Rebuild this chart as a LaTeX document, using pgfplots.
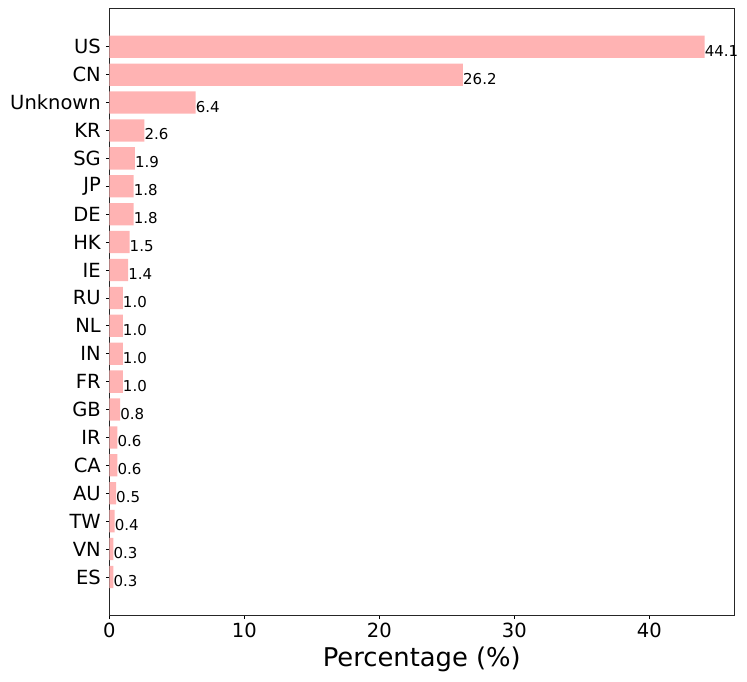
\documentclass[border=0pt]{standalone}
\usepackage{fontspec}
\setmainfont{DejaVu Sans}
\usepackage{pgfplots}
\pgfplotsset{compat=1.18}
\usepackage{pgfplotstable}
\definecolor{barpink}{RGB}{255,179,179}
\pgfplotstableread[col sep=comma]{
idx,label,value,txt
0,US,44.1,44.1
1,CN,26.2,26.2
2,Unknown,6.4,6.4
3,KR,2.6,2.6
4,SG,1.9,1.9
5,JP,1.8,1.8
6,DE,1.8,1.8
7,HK,1.5,1.5
8,IE,1.4,1.4
9,RU,1.0,1.0
10,NL,1.0,1.0
11,IN,1.0,1.0
12,FR,1.0,1.0
13,GB,0.8,0.8
14,IR,0.6,0.6
15,CA,0.6,0.6
16,AU,0.5,0.5
17,TW,0.4,0.4
18,VN,0.3,0.3
19,ES,0.3,0.3
}\datatable
\begin{document}
\begin{tikzpicture}
\begin{axis}[
  name=ax,
  scale only axis,
  width=625pt, height=607.7pt,
  xmin=0, xmax=46.3,
  ymin=-1.39, ymax=20.39,
  y dir=reverse,
  xtick={0,10,20,30,40},
  ytick={0,...,19},
  yticklabels from table={\datatable}{label},
  tick pos=left,
  tick align=outside,
  major tick length=3.5pt,
  tick style={black, line width=0.8pt},
  axis line style={black!85, line width=0.9pt},
  /pgf/number format/assume math mode=true,
  ticklabel style={font=\fontsize{19.5}{23}\selectfont},
  yticklabel style={xshift=-1.5pt},
  xlabel={Percentage (\%)},
  xlabel style={font=\fontsize{25.8}{31}\selectfont, at={(axis description cs:0.5,0)}, anchor=base, yshift=-51pt},
  nodes near coords,
  point meta=explicit symbolic,
  nodes near coords style={font=\fontsize{15}{18}\selectfont, anchor=base west, inner sep=0pt, xshift=0pt, yshift=-9.5pt},
]
\addplot[xbar, bar width=22.3pt, draw=none, fill=barpink] table[x=value, y=idx, meta=txt] {\datatable};
\end{axis}
\pgfresetboundingbox
\path[use as bounding box] ([xshift=-109.3pt,yshift=-66.3pt]ax.south west) rectangle ([xshift=12.7pt,yshift=8pt]ax.north east);
\end{tikzpicture}
\end{document}
